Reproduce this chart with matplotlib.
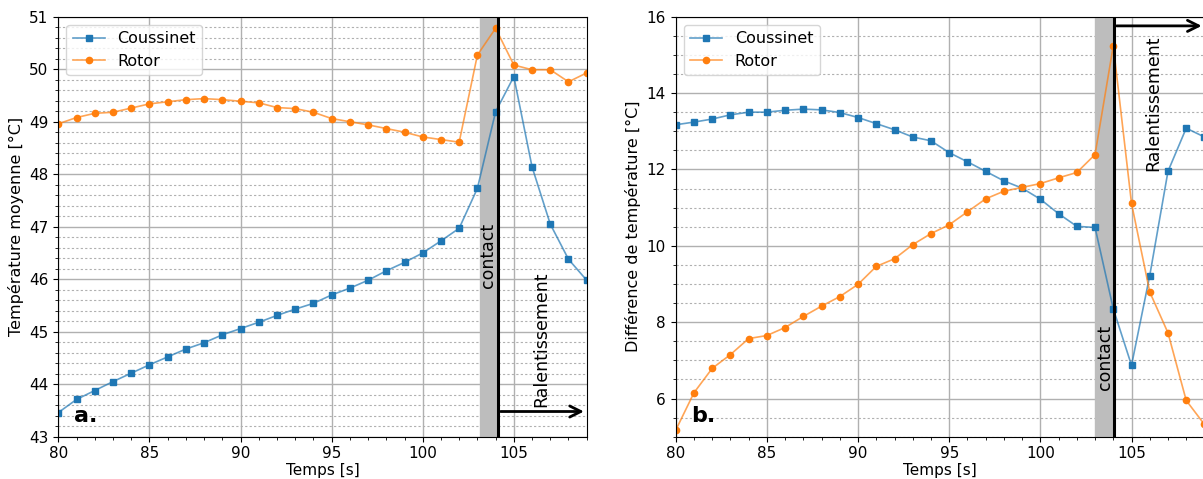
import numpy as np
import matplotlib
matplotlib.use("Agg")
import matplotlib.pyplot as plt
from matplotlib.ticker import MultipleLocator
from matplotlib.colors import to_rgba

temps = np.arange(80, 110)

# a. temperature moyenne
coussinet_moy = [43.46, 43.71, 43.88, 44.05, 44.21, 44.37, 44.52, 44.67, 44.79, 44.94,
                 45.06, 45.18, 45.31, 45.43, 45.54, 45.70, 45.83, 45.98, 46.16, 46.32,
                 46.50, 46.73, 46.97, 47.73, 49.19, 49.86, 48.14, 47.05, 46.38, 45.98]
rotor_moy = [48.96, 49.08, 49.16, 49.18, 49.26, 49.34, 49.38, 49.42, 49.44, 49.42,
             49.39, 49.36, 49.27, 49.25, 49.18, 49.06, 49.00, 48.94, 48.87, 48.80,
             48.71, 48.66, 48.61, 50.27, 50.78, 50.08, 49.99, 49.99, 49.76, 49.93]

# b. difference de temperature
coussinet_diff = [13.17, 13.24, 13.32, 13.43, 13.50, 13.50, 13.55, 13.58, 13.56, 13.49,
                  13.36, 13.20, 13.04, 12.85, 12.75, 12.44, 12.20, 11.95, 11.70, 11.51,
                  11.22, 10.84, 10.51, 10.48, 8.35, 6.87, 9.22, 11.95, 13.08, 12.85]
rotor_diff = [5.17, 6.15, 6.79, 7.15, 7.57, 7.65, 7.86, 8.15, 8.42, 8.67,
              8.99, 9.46, 9.66, 10.03, 10.32, 10.55, 10.89, 11.23, 11.43, 11.53,
              11.63, 11.78, 11.92, 12.39, 15.24, 11.11, 8.79, 7.72, 5.95, 5.32]

bleu = '#1f77b4'
orange = '#ff7f0e'

fig = plt.figure(figsize=(12.03, 4.79), dpi=100)
ax1 = fig.add_axes([0.0485, 0.0883, 0.4392, 0.8768])
ax2 = fig.add_axes([0.5617, 0.0883, 0.4395, 0.8768])


def style(ax, ylim, major, minor, ylabel):
    ax.set_xlim(80, 109)
    ax.set_ylim(*ylim)
    ax.xaxis.set_major_locator(MultipleLocator(5))
    ax.xaxis.set_minor_locator(MultipleLocator(1))
    ax.yaxis.set_major_locator(MultipleLocator(major))
    ax.yaxis.set_minor_locator(MultipleLocator(minor))
    ax.grid(which='major', color='#b0b0b0', lw=1)
    ax.grid(which='minor', axis='y', color='#b0b0b0', ls='--', lw=0.8, dashes=(2, 2))
    ax.tick_params(labelsize=11)
    ax.set_xlabel("Temps [s]", fontsize=11, labelpad=1)
    ax.set_ylabel(ylabel, fontsize=11.5)
    ax.set_axisbelow(True)


def courbe(ax, y, marker, c, label):
    ax.plot(temps, y, marker=marker, color=to_rgba(c, 0.7), lw=1.2, ms=4.5,
            mfc=c, mec=c, label=label)


# panneau a
style(ax1, (43, 51), 1, 0.2, "Température moyenne [°C]")
courbe(ax1, coussinet_moy, 's', bleu, "Coussinet")
courbe(ax1, rotor_moy, 'o', orange, "Rotor")
ax1.axvspan(103.15, 104.12, color='#bdbdbd', zorder=1.5)
ax1.axvline(104.12, color='black', lw=2.2)
ax1.annotate("", xy=(109, 43.48), xytext=(104.12, 43.48),
             arrowprops=dict(arrowstyle='->', lw=2, color='black', mutation_scale=20))
ax1.text(103.6, 46.45, "contact", rotation=90, fontsize=12.5, ha='center', va='center')
ax1.text(106.5, 44.86, "Ralentissement", rotation=90, fontsize=12.5, ha='center', va='center')
ax1.text(80.85, 43.4, "a.", fontsize=16, fontweight='bold', ha='left', va='center')
ax1.legend(loc='upper left', fontsize=11.5)

# panneau b
style(ax2, (5, 16), 2, 0.5, "Différence de température [°C]")
courbe(ax2, coussinet_diff, 's', bleu, "Coussinet")
courbe(ax2, rotor_diff, 'o', orange, "Rotor")
ax2.axvspan(103.0, 104.03, color='#bdbdbd', zorder=1.5)
ax2.axvline(104.03, color='black', lw=2.2)
ax2.annotate("", xy=(109, 15.76), xytext=(104.03, 15.76),
             arrowprops=dict(arrowstyle='->', lw=2, color='black', mutation_scale=20))
ax2.text(103.55, 7.07, "contact", rotation=90, fontsize=12.5, ha='center', va='center')
ax2.text(106.2, 13.74, "Ralentissement", rotation=90, fontsize=12.5, ha='center', va='center')
ax2.text(80.85, 5.55, "b.", fontsize=16, fontweight='bold', ha='left', va='center')
ax2.legend(loc='upper left', fontsize=11.5)

fig.savefig("out.png", dpi=100)
plt.close(fig)
